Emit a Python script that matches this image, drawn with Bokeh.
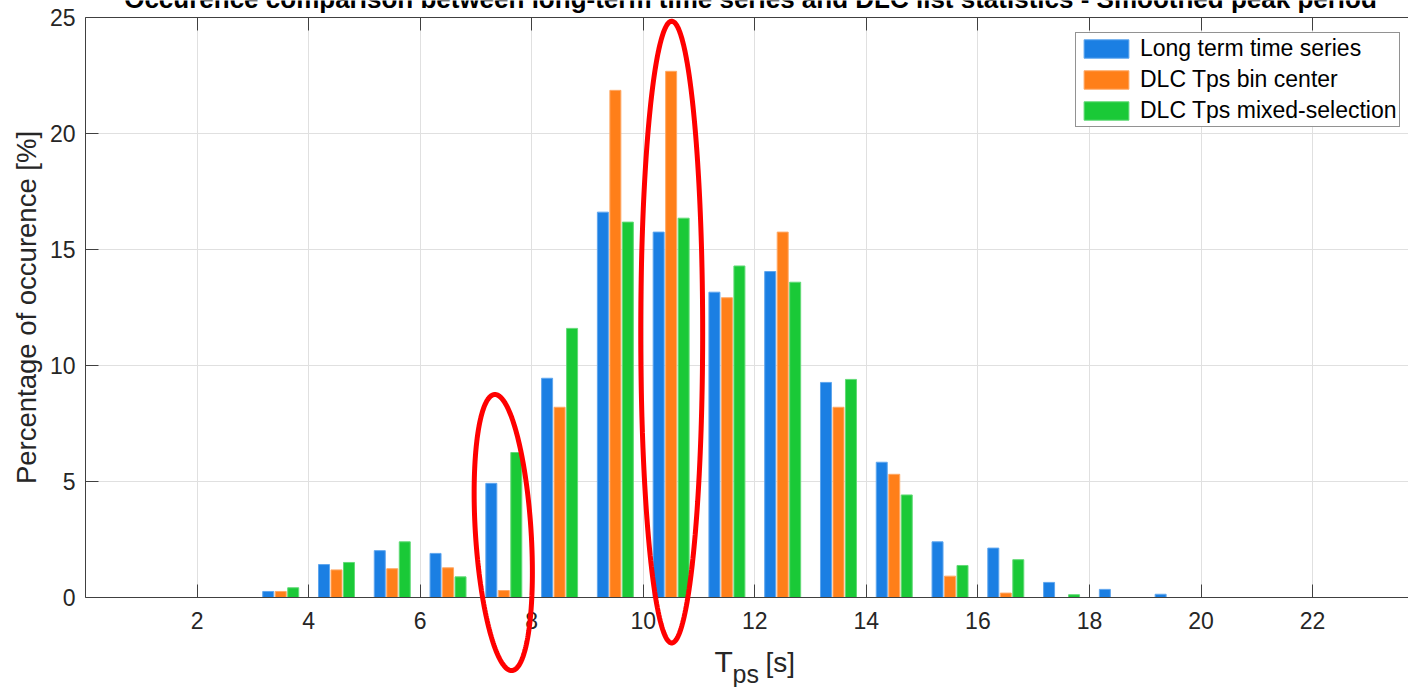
import numpy as np
from bokeh.plotting import figure
from bokeh.layouts import column
from bokeh.models import (ColumnDataSource, LinearAxis, FixedTicker, Legend,
                          Range1d)
from bokeh.core.properties import value
from bokeh.transform import dodge
from bokeh.embed import file_html
from bokeh.resources import INLINE

# ---- data -------------------------------------------------------------
tps_bins = [3.5, 4.5, 5.5, 6.5, 7.5, 8.5, 9.5, 10.5, 11.5, 12.5, 13.5,
            14.5, 15.5, 16.5, 17.5, 18.5, 19.5]
long_term = [0.26, 1.42, 2.02, 1.90, 4.92, 9.45, 16.61, 15.75, 13.16, 14.05,
             9.27, 5.83, 2.40, 2.13, 0.65, 0.35, 0.14]
dlc_bin_center = [0.26, 1.19, 1.24, 1.28, 0.30, 8.20, 21.86, 22.68, 12.92,
                  15.75, 8.20, 5.31, 0.92, 0.19, 0.0, 0.0, 0.0]
dlc_mixed = [0.42, 1.51, 2.40, 0.89, 6.25, 11.60, 16.18, 16.35, 14.29, 13.59,
             9.40, 4.42, 1.38, 1.63, 0.12, 0.0, 0.0]
series_names = ["Long term time series", "DLC Tps bin center",
                "DLC Tps mixed-selection"]
series_keys = ["long", "center", "mixed"]
series_colors = ["#1b7fe3", "#ff7f19", "#1ac937"]
series_edges = ["#5fa6ee", "#ffa865", "#62da77"]
x_ticks = [2, 4, 6, 8, 10, 12, 14, 16, 18, 20, 22]
y_ticks = [0, 5, 10, 15, 20, 25]
title_text = ("Occurence comparison between long-term time series and DLC "
              "list statistics - Smoothed peak period")
# highlighted bins (red ellipses): centre x, centre y, half-width, half-height, tilt
highlights = [(7.49, 2.80, 0.50, 5.95, -0.15),
              (10.51, 11.44, 0.555, 13.40, 0.0)]

FONT = "Liberation Sans"
TXT = "#262626"
W, H = 1408, 687
B_LEFT, B_TOP, B_BOTTOM = 85, 17, 90
X0, X1, Y0, Y1 = 0.0, 23.72, 0.0, 25.0

src = ColumnDataSource(dict(x=tps_bins, long=long_term, center=dlc_bin_center,
                            mixed=dlc_mixed))

p = figure(width=W, height=H, output_backend="svg", toolbar_location=None,
           x_range=Range1d(X0, X1), y_range=Range1d(Y0, Y1),
           min_border_left=B_LEFT, min_border_right=0, min_border_top=B_TOP,
           min_border_bottom=B_BOTTOM)
p.outline_line_color = None
p.background_fill_color = "white"

offsets = [-0.224, 0.0, 0.224]
renderers = []
for key, name, col, edge, off in zip(series_keys, series_names, series_colors,
                                     series_edges, offsets):
    r = p.vbar(x=dodge("x", off, range=p.x_range), top=key, width=0.197,
               source=src, fill_color=col, line_color=edge, line_width=1)
    renderers.append((name, r))

for ax in [p.xaxis[0], p.yaxis[0]]:
    ax.major_label_text_font = FONT
    ax.major_label_text_font_size = "23px"
    ax.major_label_text_color = TXT
    ax.axis_line_color = "#404040"
    ax.major_tick_line_color = "#404040"
    ax.major_tick_in = 13
    ax.major_tick_out = 0
    ax.minor_tick_line_color = None

p.xaxis[0].ticker = FixedTicker(ticks=x_ticks)
p.yaxis[0].ticker = FixedTicker(ticks=y_ticks)
p.xaxis[0].major_label_standoff = 14
p.yaxis[0].major_label_standoff = 10
p.yaxis[0].axis_label = "Percentage of occurence [%]"
p.yaxis[0].axis_label_text_font = FONT
p.yaxis[0].axis_label_text_font_size = "27.5px"
p.yaxis[0].axis_label_text_font_style = "normal"
p.yaxis[0].axis_label_text_color = TXT
p.yaxis[0].axis_label_standoff = 5

top_ax = LinearAxis(ticker=FixedTicker(ticks=x_ticks),
                    major_label_text_font_size="1px",
                    major_label_text_color=None, major_label_standoff=0,
                    major_tick_in=13, major_tick_out=0,
                    axis_line_color="#404040", major_tick_line_color="#404040",
                    minor_tick_line_color=None)
p.add_layout(top_ax, "above")

p.xgrid.ticker = FixedTicker(ticks=x_ticks)
p.ygrid.ticker = FixedTicker(ticks=y_ticks)
p.xgrid.grid_line_color = "#e0e0e0"
p.ygrid.grid_line_color = "#e0e0e0"

legend = Legend(items=[(n, [r]) for n, r in renderers], location=(990, 470),
                label_text_font=FONT, label_text_font_size="23px",
                label_text_color="black", glyph_width=56, glyph_height=23,
                label_height=23, spacing=4, padding=2, margin=0,
                label_standoff=6, border_line_color="#262626",
                border_line_width=1, background_fill_color="white",
                background_fill_alpha=1)
p.add_layout(legend, "center")

# ---- transparent overlay on top of the chart: its frame is aligned with the
#      chart's frame horizontally and covers the full page height, so the
#      title, the x label with subscript and the red ellipses can cross the
#      axes box without being clipped ---------------------------------------
ppy = (H - B_TOP - B_BOTTOM) / (Y1 - Y0)
ppx = (W - B_LEFT) / (X1 - X0)
ov = figure(width=W, height=H, output_backend="svg", toolbar_location=None,
            x_range=p.x_range,
            y_range=Range1d(Y0 - B_BOTTOM / ppy, Y1 + B_TOP / ppy),
            min_border=0, min_border_left=0, min_border_right=0,
            min_border_top=0, min_border_bottom=0,
            x_axis_type=None, y_axis_type=None)
ov.outline_line_color = None
ov.background_fill_color = None
ov.border_fill_color = None
ov.margin = (-H, 0, 0, 0)


def dx(px):
    return X0 + (px - B_LEFT) / ppx


def dy(py, fs=0.0):
    # text baseline correction (text glyph is drawn ~0.39 em lower)
    return Y0 + (H - B_BOTTOM - (py - 0.39 * fs)) / ppy


t = np.linspace(0, 2 * np.pi, 240)
for cx, cy, a, b, tilt in highlights:
    xs = cx + a * np.cos(t) + tilt * np.sin(t)
    ys = cy + b * np.sin(t)
    ov.line(xs, ys, line_color="#ff0000", line_width=5)

ov.text(x=[dx(750)], y=[dy(8.5, 26)], text=[title_text], text_font=value(FONT),
        text_font_size="26px", text_font_style="bold", text_color="black",
        text_align="center", text_baseline="alphabetic")
ov.text(x=[dx(714)], y=[dy(673, 30)], text=["T"], text_font=value(FONT),
        text_font_size="30px", text_color=TXT, text_baseline="alphabetic")
ov.text(x=[dx(732)], y=[dy(683, 25)], text=["ps"], text_font=value(FONT),
        text_font_size="25px", text_color=TXT, text_baseline="alphabetic")
ov.text(x=[dx(765)], y=[dy(673, 28)], text=["[s]"], text_font=value(FONT),
        text_font_size="28px", text_color=TXT, text_baseline="alphabetic")

page = column(p, ov, spacing=0)
open("out.html", "w").write(file_html(page, INLINE))
